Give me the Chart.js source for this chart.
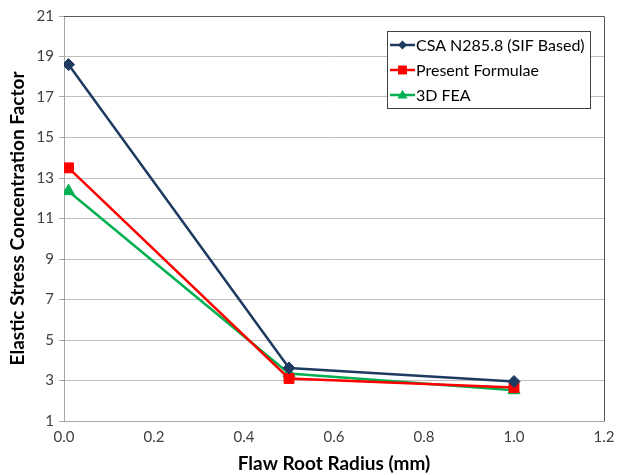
<!DOCTYPE html>
<html>
<head>
<meta charset="utf-8">
<script src="https://cdn.jsdelivr.net/npm/chart.js@4"></script>
<style>
  html, body { margin: 0; padding: 0; background: #fff; }
  #wrap { width: 623px; height: 475px; }
</style>
</head>
<body>
<div id="wrap"><canvas id="c" width="623" height="475"></canvas></div>
<script>
// Flaw root radius (mm)
const radius = [0.01, 0.5, 1.0];
// Elastic stress concentration factor per method
const csaValues = [18.6, 3.62, 2.95];
const presentValues = [13.5, 3.1, 2.65];
const feaValues = [12.35, 3.35, 2.52];
const seriesNames = ['CSA N285.8 (SIF Based)', 'Present Formulae', '3D FEA'];
const xTicks = [0, 0.2, 0.4, 0.6, 0.8, 1.0, 1.2];
const yTicks = [1, 3, 5, 7, 9, 11, 13, 15, 17, 19, 21];

const FONT = 'Lato, "Open Sans", sans-serif';

function pts(vals) { return radius.map((x, i) => ({ x: x, y: vals[i] })); }

function drawMarker(ctx, style, x, y, r) {
  if (style === 'rectRot') {
    ctx.moveTo(x, y - r); ctx.lineTo(x + r, y); ctx.lineTo(x, y + r); ctx.lineTo(x - r, y); ctx.closePath();
  } else if (style === 'rect') {
    const s = r * 0.85;
    ctx.rect(x - s, y - s, 2 * s, 2 * s);
  } else {
    ctx.moveTo(x, y - r); ctx.lineTo(x + r * 0.95, y + r * 0.65); ctx.lineTo(x - r * 0.95, y + r * 0.65); ctx.closePath();
  }
}

// Boxed legend drawn inside the plot area, top right
const boxLegend = {
  id: 'boxLegend',
  afterDraw(chart) {
    const ctx = chart.ctx;
    const x0 = 387, y0 = 31, w = 203, h = 77;
    ctx.save();
    ctx.fillStyle = '#fff';
    ctx.fillRect(x0, y0, w, h);
    ctx.strokeStyle = '#404040';
    ctx.lineWidth = 1;
    ctx.strokeRect(x0 + 0.5, y0 + 0.5, w, h);
    chart.data.datasets.forEach((ds, i) => {
      const cy = y0 + 14 + i * 25;
      ctx.strokeStyle = ds.borderColor;
      ctx.lineWidth = 2.5;
      ctx.beginPath();
      ctx.moveTo(x0 + 3, cy);
      ctx.lineTo(x0 + 28, cy);
      ctx.stroke();
      ctx.fillStyle = ds.pointBackgroundColor;
      ctx.beginPath();
      drawMarker(ctx, ds.pointStyle, x0 + 15.5, cy, ds.pointRadius * 0.75);
      ctx.fill();
      ctx.fillStyle = '#000';
      ctx.font = '16px ' + FONT;
      ctx.textBaseline = 'middle';
      ctx.textAlign = 'left';
      ctx.fillText(ds.label, x0 + 29, cy + 1);
    });
    ctx.restore();
  }
};

// Dark frame on the top and right edges of the plot area
const plotFrame = {
  id: 'plotFrame',
  beforeDatasetsDraw(chart) {
    const a = chart.chartArea, ctx = chart.ctx;
    ctx.save();
    ctx.strokeStyle = '#595959';
    ctx.lineWidth = 1;
    ctx.beginPath();
    ctx.moveTo(a.left, a.top + 0.5);
    ctx.lineTo(a.right + 0.5, a.top + 0.5);
    ctx.lineTo(a.right + 0.5, a.bottom);
    ctx.stroke();
    ctx.restore();
  }
};

const datasets = [
  { label: seriesNames[0], data: pts(csaValues), borderColor: '#1F3A60', pointBackgroundColor: '#1F3A60',
    pointBorderColor: '#1F3A60', pointStyle: 'rectRot', pointRadius: 6 },
  { label: seriesNames[1], data: pts(presentValues), borderColor: '#FF0000', pointBackgroundColor: '#FF0000',
    pointBorderColor: '#FF0000', pointStyle: 'rect', pointRadius: 7 },
  { label: seriesNames[2], data: pts(feaValues), borderColor: '#00B050', pointBackgroundColor: '#00B050',
    pointBorderColor: '#00B050', pointStyle: 'triangle', pointRadius: 7 }
].map(d => Object.assign({ borderWidth: 2.5, tension: 0, fill: false, pointBorderWidth: 1 }, d));

new Chart(document.getElementById('c'), {
  type: 'line',
  data: { datasets: datasets },
  options: {
    responsive: false,
    animation: false,
    devicePixelRatio: 1,
    layout: { padding: { left: 6, top: 16, right: 19, bottom: 0 } },
    plugins: { legend: { display: false }, tooltip: { enabled: false } },
    scales: {
      x: {
        type: 'linear', min: 0, max: 1.2,
        afterBuildTicks(s) { s.ticks = xTicks.map(v => ({ value: v })); },
        afterFit(s) { s.height = 54; },
        grid: { display: false, drawOnChartArea: false, drawTicks: true, tickLength: 5, tickColor: '#A6A6A6' },
        border: { color: '#A6A6A6', width: 1 },
        ticks: { color: '#404040', font: { family: FONT, size: 15 }, padding: 2, maxRotation: 0,
          callback: v => v.toFixed(1) },
        title: { display: true, text: 'Flaw Root Radius (mm)', color: '#000',
          font: { family: FONT, size: 19, weight: 'bold' }, padding: { top: 0, bottom: 0 } }
      },
      y: {
        type: 'linear', min: 1, max: 21,
        afterBuildTicks(s) { s.ticks = yTicks.map(v => ({ value: v })); },
        afterFit(s) { s.width = 58; },
        grid: { color: '#BFBFBF', lineWidth: 1, drawTicks: true, tickLength: 5, tickColor: '#A6A6A6' },
        border: { color: '#A6A6A6', width: 1 },
        ticks: { color: '#404040', font: { family: FONT, size: 15 }, padding: 5 },
        title: { display: true, text: 'Elastic Stress Concentration Factor', color: '#000',
          font: { family: FONT, size: 19, weight: 'bold' }, padding: { top: 0, bottom: 0 } }
      }
    }
  },
  plugins: [plotFrame, boxLegend]
});
</script>
</body>
</html>
